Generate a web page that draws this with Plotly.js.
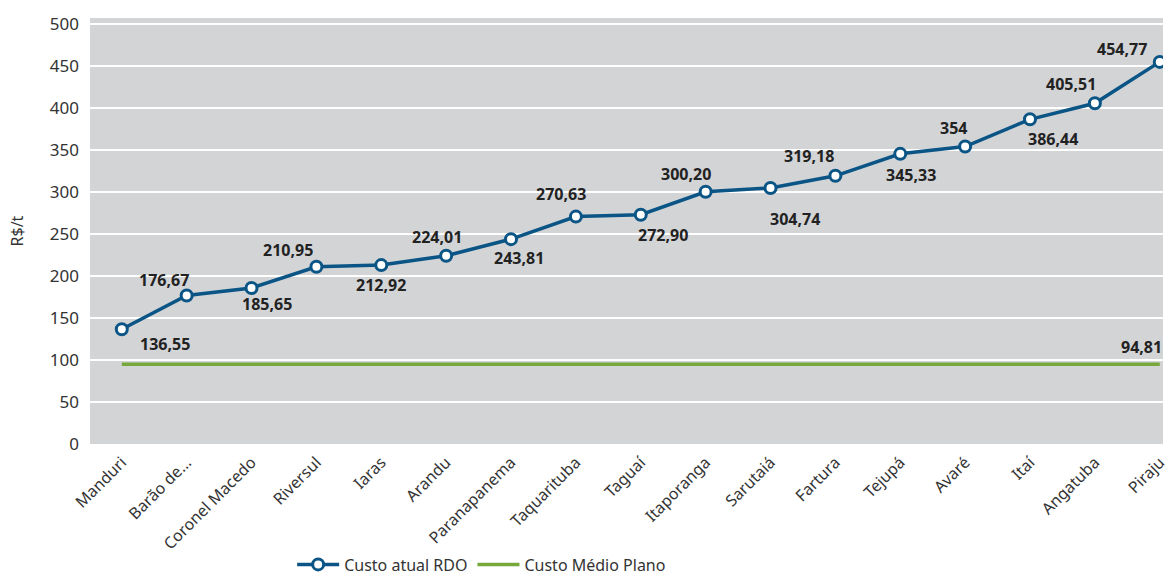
<!DOCTYPE html>
<html><head><meta charset="utf-8">
<script src="https://cdn.plot.ly/plotly-3.0.1.min.js"></script>
<style>html,body{margin:0;padding:0;background:#fff}#chart{width:1175px;height:577px}</style>
</head><body><div id="chart"></div>
<script>
const categories = ["Manduri","Barão de...","Coronel Macedo","Riversul","Iaras","Arandu","Paranapanema","Taquarituba","Taguaí","Itaporanga","Sarutaiá","Fartura","Tejupá","Avaré","Itaí","Angatuba","Piraju"];
const custoAtual = [136.55,176.67,185.65,210.95,212.92,224.01,243.81,270.63,272.90,300.20,304.74,319.18,345.33,354,386.44,405.51,454.77];
const custoAtualLabels = ["136,55","176,67","185,65","210,95","212,92","224,01","243,81","270,63","272,90","300,20","304,74","319,18","345,33","354","386,44","405,51","454,77"];
const custoMedio = [94.81,94.81,94.81,94.81,94.81,94.81,94.81,94.81,94.81,94.81,94.81,94.81,94.81,94.81,94.81,94.81,94.81];
const custoMedioLabel = "94,81";
const yTickVals = [0,50,100,150,200,250,300,350,400,450,500];

// label offsets (pixels: dx right, dy down)
const labelOffsets = [[43,15],[-23,-16],[15,16],[-28,-17],[0,20],[-9,-19],[8,19],[-15,-23],[22,20],[-20,-18],[24,31],[-26,-20],[11,21],[-12,-19],[23,20],[-24,-19],[-38,-13]];

const FONT = "'Noto Sans', 'Open Sans', sans-serif";
const annotations = categories.map((c,i)=>({
  x: c, y: custoAtual[i], text: custoAtualLabels[i], showarrow:false,
  xshift: labelOffsets[i][0], yshift: -labelOffsets[i][1],
  font:{family:FONT,size:16,color:'#222',weight:'bold'}
}));
annotations.push({x: categories[categories.length-1], y: custoMedio[custoMedio.length-1], text: custoMedioLabel,
  showarrow:false, xanchor:'right', yanchor:'bottom', xshift:4, yshift:4,
  font:{family:FONT,size:16,color:'#222',weight:'bold'}});

const traces = [
  {x:categories, y:custoAtual, type:'scatter', mode:'lines+markers', name:'Custo atual RDO',
   line:{color:'#0a5585',width:3.5},
   marker:{size:11,color:'#ffffff',line:{color:'#0a5585',width:3}}},
  {x:categories, y:custoMedio, type:'scatter', mode:'lines', name:'Custo Médio Plano',
   line:{color:'#77a83c',width:3.5}}
];
const layout = {
  width:1175, height:577,
  margin:{l:90,r:12,t:18,b:133,autoexpand:false},
  paper_bgcolor:'#ffffff', plot_bgcolor:'#d3d4d6',
  font:{family:FONT,size:16,color:'#333'},
  showlegend:true,
  legend:{orientation:'h',x:0.365,xanchor:'center',y:-0.243,yanchor:'top',itemwidth:42,
    font:{family:FONT,size:16,color:'#333'}},
  xaxis:{type:'category',range:[-0.49,16.05],tickangle:-45,showgrid:false,zeroline:false,showline:false,
    automargin:false,ticklabelstandoff:5,
    tickfont:{family:FONT,size:16,color:'#333'},ticks:''},
  yaxis:{range:[0,507],tickvals:yTickVals,showgrid:true,gridcolor:'#ffffff',gridwidth:1.5,zeroline:false,
    automargin:false,
    tickfont:{family:FONT,size:17,color:'#333'},ticklabelstandoff:10,
    title:{text:'R$/t',font:{family:FONT,size:16,color:'#333'},standoff:22}},
  annotations: annotations
};
Plotly.newPlot('chart', traces, layout, {displayModeBar:false, staticPlot:true});
</script></body></html>
